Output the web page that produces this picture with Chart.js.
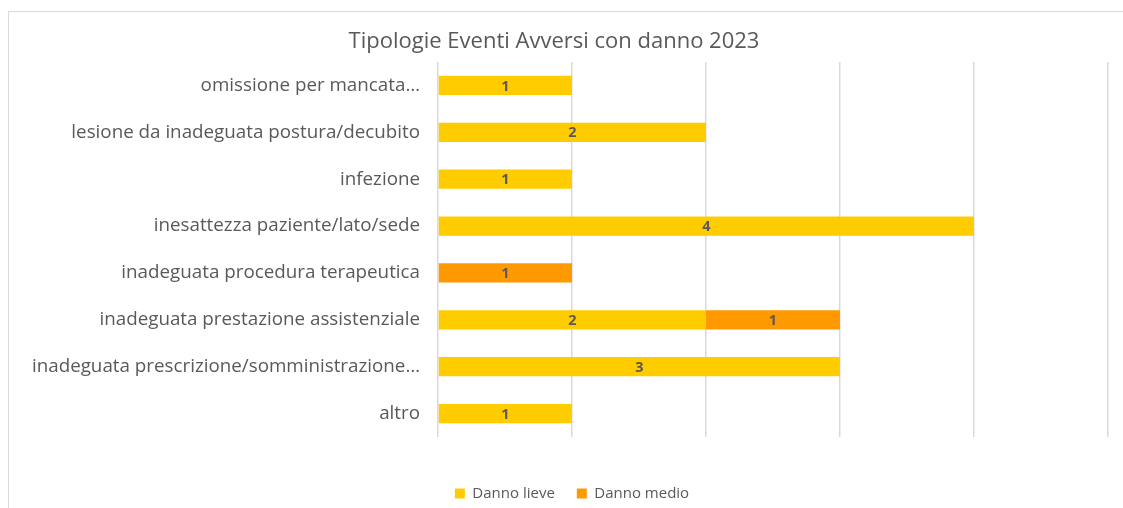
<!DOCTYPE html>
<html>
<head>
<meta charset="utf-8">
<script src="https://cdn.jsdelivr.net/npm/chart.js@4/dist/chart.umd.min.js"></script>
<style>
  body { margin: 0; background: #fff; overflow: hidden; }
  #wrap { position: relative; width: 1123px; height: 508px; }
  #frame { position: absolute; left: 8px; top: 11px; width: 1300px; height: 700px; border: 1px solid #d9d9d9; }
  #c { position: absolute; left: 0; top: 0; }
</style>
</head>
<body>
<div id="wrap">
  <div id="frame"></div>
  <canvas id="c" width="1123" height="508"></canvas>
</div>
<script>
// categorie dall'alto verso il basso
const tipologie = [
    'omissione per mancata…',
    'lesione da inadeguata postura/decubito',
    'infezione',
    'inesattezza paziente/lato/sede',
    'inadeguata procedura terapeutica',
    'inadeguata prestazione assistenziale',
    'inadeguata prescrizione/somministrazione…',
    'altro'
];
const dannoLieve = [1, 2, 1, 4, null, 2, 3, 1];
const dannoMedio = [null, null, null, null, 1, 1, null, null];

const grigio = '#595959';
const FONT = '"Open Sans", Lato, sans-serif';

// etichette dei valori al centro di ogni barra
const etichette = {
    id: 'etichette',
    afterDatasetsDraw(chart) {
        const ctx = chart.ctx;
        ctx.save();
        ctx.font = 'bold 14.5px ' + FONT;
        ctx.fillStyle = grigio;
        ctx.textAlign = 'center';
        ctx.textBaseline = 'middle';
        chart.data.datasets.forEach((ds, i) => {
            chart.getDatasetMeta(i).data.forEach((bar, j) => {
                const v = ds.data[j];
                if (v == null) return;
                const p = bar.getProps(['x', 'y', 'base'], true);
                ctx.fillText(v, (p.x + p.base) / 2, p.y + 1);
            });
        });
        ctx.restore();
    }
};

// sposta un po' la legenda come nell'originale
const spostaLegenda = {
    id: 'spostaLegenda',
    afterLayout(chart) {
        const l = chart.legend;
        l.left += 18; l.right += 18;
        l.top += 3; l.bottom += 3;
    }
};

const ctx = document.getElementById('c');
const chart = new Chart(ctx, {
    type: 'bar',
    data: {
        labels: tipologie,
        datasets: [{
            label: 'Danno lieve',
            data: dannoLieve,
            backgroundColor: '#ffcc00',
            barPercentage: 0.41,
            categoryPercentage: 1
        },
        {
            label: 'Danno medio',
            data: dannoMedio,
            backgroundColor: '#ff9900',
            barPercentage: 0.41,
            categoryPercentage: 1
        }]
    },
    plugins: [etichette, spostaLegenda],
    options: {
        indexAxis: 'y',
        responsive: false,
        animation: false,
        layout: {
            padding: { top: 29, right: 15, bottom: 0, left: 0 }
        },
        plugins: {
            title: {
                display: true,
                text: 'Tipologie Eventi Avversi con danno 2023',
                color: grigio,
                font: { family: FONT, size: 22, weight: 'normal' },
                padding: { top: 0, bottom: 6.6 }
            },
            legend: {
                position: 'bottom',
                labels: {
                    boxWidth: 10,
                    boxHeight: 10,
                    color: grigio,
                    padding: 22,
                    font: { family: FONT, size: 15 }
                }
            },
            tooltip: { enabled: false }
        },
        scales: {
            x: {
                stacked: true,
                min: 0,
                max: 5,
                ticks: { display: false, stepSize: 1 },
                grid: { color: '#d9d9d9', lineWidth: 1.5, drawTicks: false },
                border: { display: false },
                afterFit(scale) { scale.height = 24; }
            },
            y: {
                stacked: true,
                grid: { display: false, drawTicks: false },
                border: { display: false },
                ticks: {
                    color: grigio,
                    padding: 18,
                    font: { family: FONT, size: 18.8 }
                },
                afterFit(scale) { scale.width = 438; }
            }
        }
    }
});
</script>
</body>
</html>
